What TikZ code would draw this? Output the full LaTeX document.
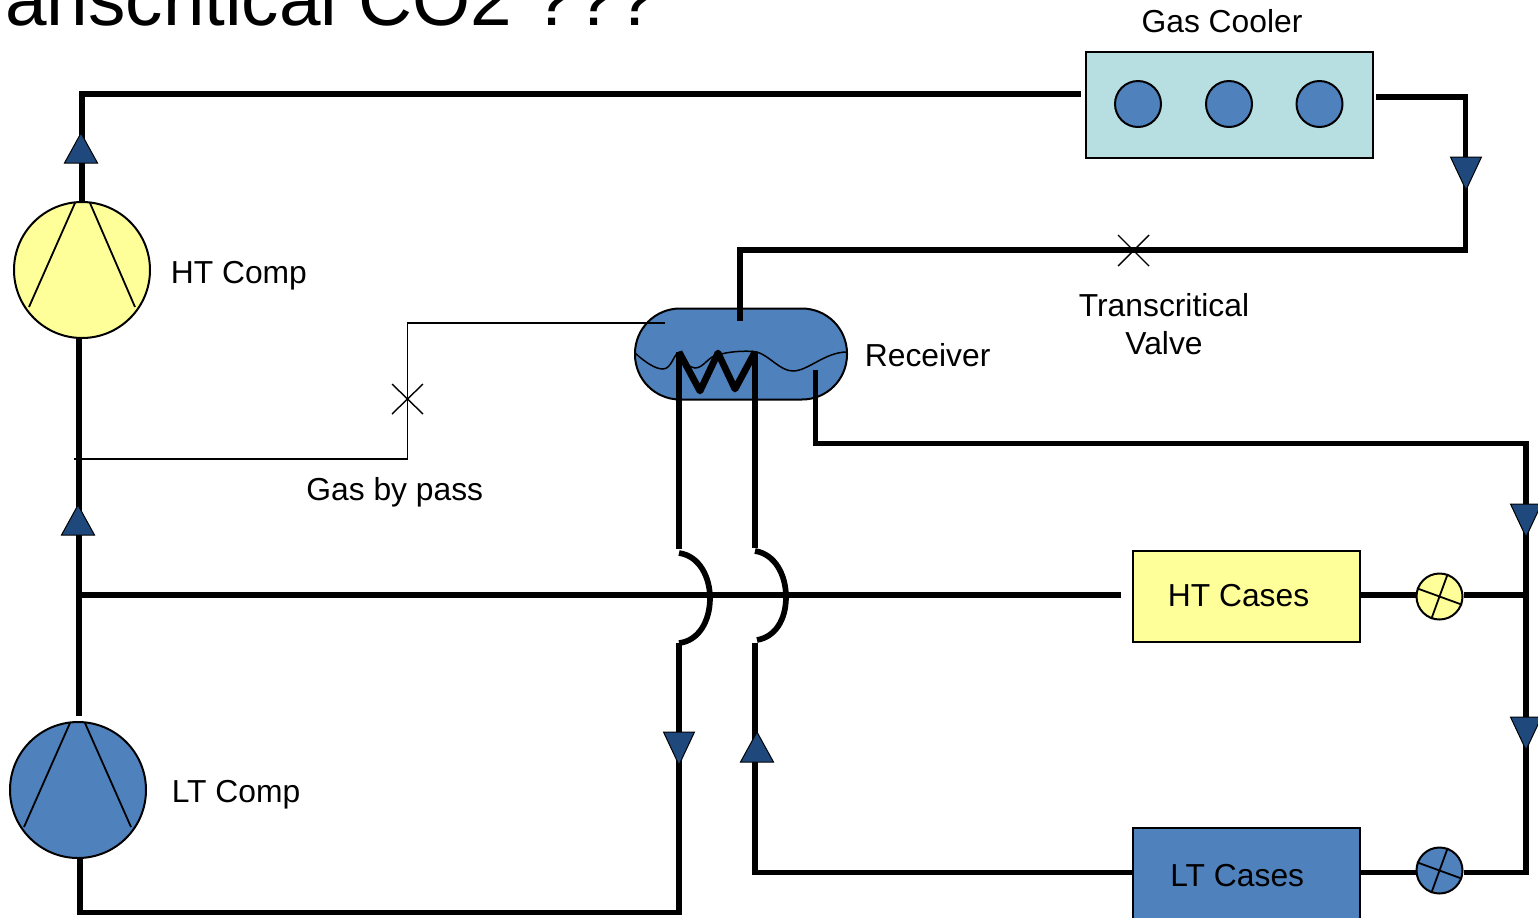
\documentclass[tikz,border=0pt]{standalone}
\usepackage{fontspec}
\setmainfont{Liberation Sans}
\definecolor{pipeblue}{HTML}{4F81BD}
\definecolor{tipblue}{HTML}{1F497D}
\definecolor{paleyellow}{HTML}{FFFF99}
\definecolor{paleteal}{HTML}{B7DEE1}
\tikzset{
  pipe/.style={draw=black,line width=2.85pt,line join=miter},
  thinpipe/.style={draw=black,line width=0.8pt},
  outline/.style={draw=black,line width=1pt},
  comp/.style={circle,outline,minimum size=68pt,inner sep=0pt},
  fan/.style={circle,outline,fill=pipeblue,minimum size=23pt,inner sep=0pt},
  valve/.style={circle,line width=1pt,draw=black,minimum size=23pt,inner sep=0pt},
  case/.style={rectangle,outline,minimum width=113.5pt,inner sep=0pt,anchor=north west},
  lbl/.style={font=\fontsize{15.9}{19.2}\selectfont,inner sep=0pt,align=center},
  tip/.style={fill=tipblue,draw=black,line width=0.5pt,line join=miter},
}
\newcommand{\uptip}[1]{\filldraw[tip] (#1) -- ++(-16.5,30) -- ++(33,0) -- cycle;}
\newcommand{\downtip}[1]{\filldraw[tip] (#1) -- ++(-15.5,-33) -- ++(31,0) -- cycle;}
\begin{document}
\begin{tikzpicture}[x=0.5pt,y=-0.5pt]
\useasboundingbox (0,0) rectangle (1538,917);
\clip (0,0) rectangle (1538,917);
% title
\node[anchor=base west,inner sep=0pt,font=\fontsize{37.35}{40}\selectfont] (title) at (5,25) {anscritical CO2 ???};
% components
\node[rectangle,outline,fill=paleteal,minimum width=143.5pt,minimum height=53pt,inner sep=0pt,anchor=north west] (cooler) at (1084.5,50.5) {};
\node[fan] (fanA) at (1138,104) {};
\node[fan] (fanB) at (1229,104) {};
\node[fan] (fanC) at (1319.5,104) {};
\node[comp,fill=paleyellow] (htcomp) at (82,270) {};
\node[comp,fill=pipeblue] (ltcomp) at (78,790) {};
\node[rectangle,outline,fill=pipeblue,rounded corners=22.5pt,minimum width=106pt,minimum height=45.5pt,inner sep=0pt,anchor=north west] (receiver) at (634,307.5) {};
\node[case,fill=paleyellow,minimum height=45.5pt] (htcases) at (1132,549.5) {};
\node[case,fill=pipeblue,minimum height=60pt] (ltcases) at (1132,826.5) {};
\node[valve,fill=paleyellow] (htvalve) at (1439.5,596.5) {};
\node[valve,fill=pipeblue] (ltvalve) at (1439.5,870.5) {};
% compressor marks
\draw[line width=0.9pt] (75,203) -- (29,307) (90,203) -- (135,307);
\draw[line width=0.9pt] (70,723) -- (24,827) (85,723) -- (131,827);
% liquid level
\draw[line width=0.75pt] (635,353) .. controls (645,362) and (655,369) .. (663,369)
  .. controls (672,369) and (674,352) .. (680,352)
  .. controls (684,360) and (688,368) .. (695,368)
  .. controls (704,368) and (708,356) .. (718,355)
  .. controls (726,352) and (745,350) .. (757,352)
  .. controls (770,356) and (780,371) .. (793,371)
  .. controls (808,371) and (825,352) .. (847,352);
% named junctions
\coordinate (topleft) at (82,94);
\coordinate (coolerin) at (1081,94);
\coordinate (coolerout) at (1376,97);
\coordinate (c1) at (1465.5,97);
\coordinate (c2) at (1465.5,250);
\coordinate (c3) at (740,250);
\coordinate (c4) at (740,321);
\coordinate (ltup) at (79,716);
\coordinate (htdown) at (79,338);
\coordinate (suctionL) at (79,595);
\coordinate (suctionR) at (1121,595);
\coordinate (a1) at (679,352);
\coordinate (a2) at (679,549);
\coordinate (a3) at (679,553);
\coordinate (a4) at (679,643);
\coordinate (a5) at (679,912.5);
\coordinate (a6) at (80,912.5);
\coordinate (b1) at (755,352);
\coordinate (b2) at (755,548);
\coordinate (b3) at (755,551);
\coordinate (b4) at (757,640);
\coordinate (b5) at (755,643);
\coordinate (b6) at (755,872.5);
\coordinate (d1) at (815.5,370);
\coordinate (d2) at (815.5,443.5);
\coordinate (d3) at (1526,443.5);
\coordinate (d4) at (1526,872.5);
\coordinate (e1) at (1526,595);
% pipes
\draw[pipe] (htcomp.north) -- (topleft) -- (coolerin);
\draw[pipe] (coolerout) -- (c1) -- (c2) -- (c3) -- (c4);
\draw[pipe] (htdown) -- (ltup);
\draw[pipe] (suctionL) -- (suctionR);
\draw[pipe] (a1) -- (a2);
\draw[pipe] (a3) .. controls (700,556) and (710,578) .. (710,598) .. controls (710,622) and (698,641) .. (a4);
\draw[pipe] (a4) -- (a5) -- (a6) -- (ltcomp.south -| a6);
\draw[pipe] (b1) -- (b2);
\draw[pipe] (b3) .. controls (775,554) and (786,575) .. (786,597) .. controls (786,620) and (775,637) .. (b4);
\draw[pipe] (b5) -- (b6) -- (b6 -| ltcases.west);
\draw[pipe] (d1) -- (d2) -- (d3) -- (d4) -- (ltvalve.east |- d4);
\draw[pipe] (ltvalve.west |- d4) -- (d4 -| ltcases.east);
\draw[pipe] (e1) -- (htvalve.east |- e1);
\draw[pipe] (htvalve.west |- e1) -- (e1 -| htcases.east);
\draw[pipe,line width=3.4pt,line join=round] (a1) -- (700,391) -- (718,353) -- (735,389) -- (b1);
% valve marks
\draw[line width=0.9pt] (htvalve.160) -- (htvalve.340) (htvalve.70) -- (htvalve.250);
\draw[line width=0.9pt] (ltvalve.160) -- (ltvalve.340) (ltvalve.70) -- (ltvalve.250);
% gas by pass
\coordinate (g1) at (665,323);
\coordinate (g2) at (407.5,323);
\coordinate (g3) at (407.5,459);
\coordinate (g4) at (74,459);
\draw[thinpipe] (g1) -- (g2) -- (g3) -- (g4);
% hand valves
\draw[line width=0.7pt] (1118,235) -- (1149,266) (1149,235) -- (1118,266);
\draw[line width=0.7pt] (392,384) -- (423,414) (423,384) -- (392,414);
% flow arrows
\uptip{81,133}
\uptip{78,505}
\uptip{757,732}
\downtip{1466,190}
\downtip{679,765}
\downtip{1526,537}
\downtip{1526,750}
% labels
\node[lbl] (t1) at (1222,21) {Gas Cooler};
\node[lbl,anchor=base west] (t2) at (170.5,283) {HT Comp};
\node[lbl,anchor=base west] (t3) at (171.5,802) {LT Comp};
\node[lbl,anchor=base west] (t4) at (864.5,366) {Receiver};
\node[lbl] (t5) at (1164,324) {Transcritical\\Valve};
\node[lbl,anchor=base west] (t6) at (306,500) {Gas by pass};
\node[lbl,anchor=west] (t7) at (1167.5,595.5) {HT Cases};
\node[lbl,anchor=west] (t8) at (1170,875.5) {LT Cases};
\end{tikzpicture}
\end{document}
